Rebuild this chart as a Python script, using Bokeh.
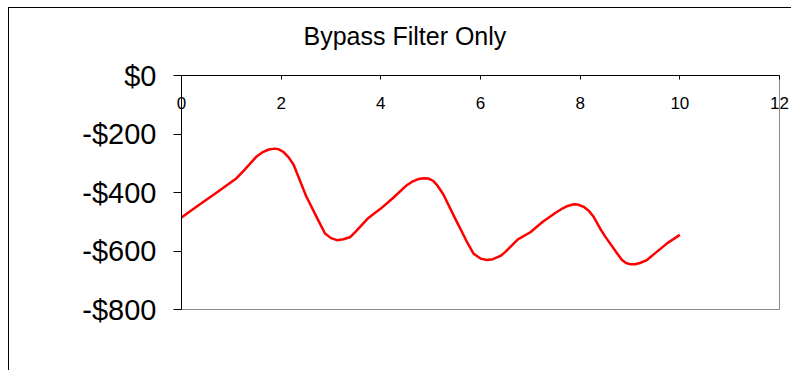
from bokeh.plotting import figure
from bokeh.models import LinearAxis, FixedTicker, Range1d, Title
from bokeh.embed import file_html
from bokeh.resources import INLINE

# Savings over time, bypass filter only
months = [0, 0.25, 0.5, 0.75, 1.0, 1.1, 1.25, 1.5, 1.62, 1.75, 1.87, 1.95, 2.05, 2.15, 2.25,
          2.5, 2.75, 2.88, 3.0, 3.12, 3.25, 3.39, 3.5, 3.75, 4.0, 4.25, 4.5, 4.62, 4.75,
          4.86, 4.95, 5.05, 5.13, 5.25, 5.5, 5.75, 5.86, 6.0, 6.13, 6.25, 6.4, 6.5, 6.75,
          7.0, 7.25, 7.5, 7.65, 7.75, 7.87, 7.95, 8.07, 8.17, 8.27, 8.4, 8.5, 8.75, 8.84,
          8.92, 9.0, 9.1, 9.2, 9.34, 9.5, 9.75, 10.0]
savings = [-485, -455, -425, -395, -364, -352, -325, -278, -263, -253, -250, -252, -262, -280, -305,
           -412, -497, -540, -556, -563, -560, -552, -533, -487, -455, -418, -378, -364, -354,
           -351, -352, -360, -375, -405, -492, -576, -609, -626, -631, -628, -617, -603, -560,
           -536, -500, -470, -454, -446, -440, -441, -449, -462, -483, -523, -550, -610, -631,
           -641, -645, -645, -641, -631, -608, -573, -545]

x_ticks = [0, 2, 4, 6, 8, 10, 12]
y_ticks = [0, -200, -400, -600, -800]
y_tick_labels = ["$0", "-$200", "-$400", "-$600", "-$800"]

FONT = "Liberation Sans"

p = figure(width=783, height=363, title=None,
           x_range=Range1d(0, 12), y_range=Range1d(-800, 0),
           x_axis_location=None, y_axis_location=None,
           output_backend="svg", toolbar_location=None,
           min_border_left=172, min_border_top=67,
           min_border_right=13, min_border_bottom=62)
p.margin = (7, 0, 0, 8)
p.styles = {"border-left": "1px solid #000000", "border-top": "1px solid #000000"}

p.background_fill_color = "white"
p.border_fill_color = "white"
p.outline_line_color = "#8c8c8c"
p.outline_line_width = 1
p.grid.visible = False

# value axis on the left
yax = LinearAxis(ticker=FixedTicker(ticks=y_ticks))
yax.major_label_overrides = dict(zip(y_ticks, y_tick_labels))
yax.axis_line_color = "black"
yax.major_tick_line_color = "black"
yax.major_tick_in = 0
yax.major_tick_out = 8
yax.minor_tick_line_color = None
yax.major_label_standoff = 17
yax.major_label_text_font = FONT
yax.major_label_text_font_size = "29px"
yax.major_label_text_color = "black"
p.add_layout(yax, "left")

# month axis along the top, labels hanging just inside the plot area
xax = LinearAxis(ticker=FixedTicker(ticks=x_ticks))
xax.axis_line_color = "black"
xax.major_tick_line_color = "black"
xax.major_tick_in = 4
xax.major_tick_out = 0
xax.minor_tick_line_color = None
xax.major_label_standoff = -33
xax.major_label_text_font = FONT
xax.major_label_text_font_size = "17px"
xax.major_label_text_color = "black"
p.add_layout(xax, "above")

# blank strip between the axis and the heading
p.add_layout(Title(text=" ", text_font_size="1px", standoff=14), "above")

p.add_layout(Title(text="Bypass Filter Only", align="left", offset=122,
                   text_font=FONT, text_font_size="25px", text_font_style="normal",
                   text_color="black", standoff=18), "above")

p.line(months, savings, line_color="#ff0000", line_width=2.5, line_join="round")

open("out.html", "w").write(file_html(p, INLINE))
